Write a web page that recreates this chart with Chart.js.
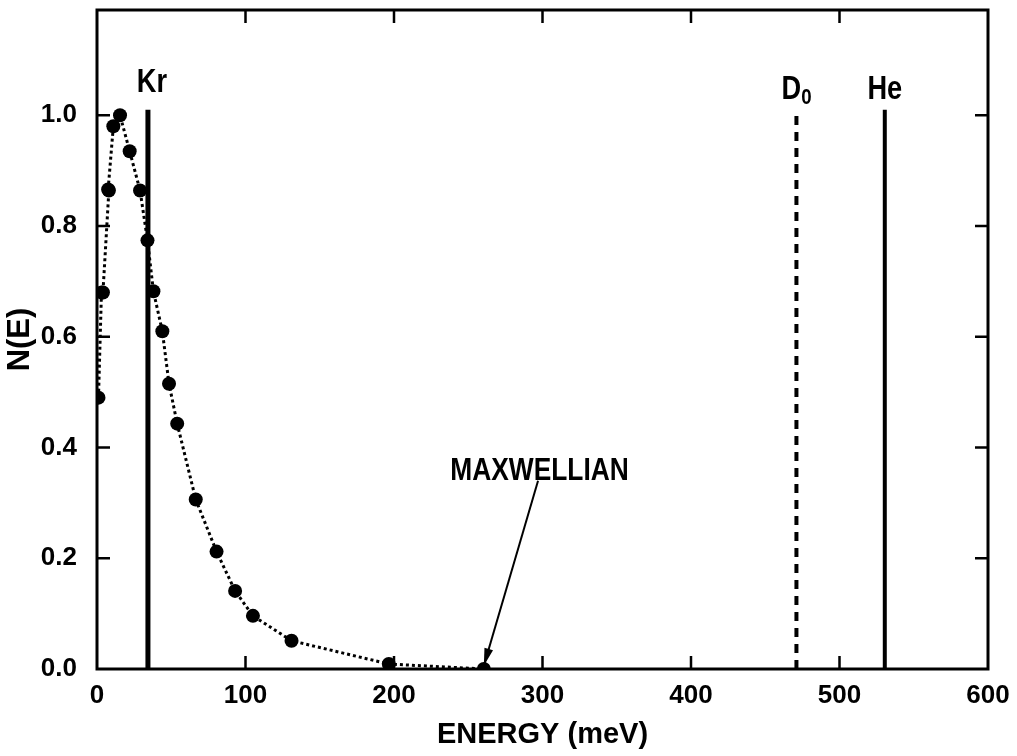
<!DOCTYPE html>
<html>
<head>
<meta charset="utf-8">
<script src="https://cdn.jsdelivr.net/npm/chart.js@4.4.0/dist/chart.umd.min.js"></script>
<style>
  html, body { margin: 0; padding: 0; background: #fff; }
  #wrap { width: 1017px; height: 756px; }
</style>
</head>
<body>
<div id="wrap"><canvas id="myChart" width="1017" height="756"></canvas></div>
<script>
// measured Maxwellian points, energy (meV) vs N(E)
const energy = [1, 3, 4, 8, 7.5, 11, 15.5, 22, 29, 34, 38, 44, 48.5, 54, 66.5, 80.5, 93, 105, 131, 196.5, 260.5];
const nE = [0.49, 0.68, 0.68, 0.864, 0.866, 0.98, 1.0, 0.935, 0.864, 0.774, 0.682, 0.61, 0.515, 0.443, 0.306, 0.212, 0.141, 0.096, 0.051, 0.009, 0.0];
// beam energies of the three gases
const lineNames = ['Kr', 'D0', 'He'];
const lineEnergy = [34.3, 471, 530.5];
const lineTop = 1.01;
const xTicks = [0, 100, 200, 300, 400, 500, 600];
const yTicks = [0, 0.2, 0.4, 0.6, 0.8, 1.0];

const FONT = '"Liberation Sans", Arial, sans-serif';

const ctx = document.getElementById('myChart').getContext('2d');

const pts = energy.map((e, i) => ({ x: e, y: nE[i] }));
const vline = (e) => [{ x: e, y: 0 }, { x: e, y: lineTop }];

// condensed-looking text: squeeze horizontally
function narrowText(c, txt, x, y, sx) {
    c.save();
    c.translate(x, y);
    c.scale(sx, 1);
    c.fillText(txt, 0, 0);
    c.restore();
}

// frame, inward ticks, labels and arrow
const decor = {
    id: 'decor',
    afterDatasetsDraw(chart) {
        const c = chart.ctx;
        const a = chart.chartArea;
        const xs = chart.scales.x, ys = chart.scales.y;
        c.save();
        c.strokeStyle = '#000';
        c.lineWidth = 3;
        c.strokeRect(a.left, a.top, a.right - a.left, a.bottom - a.top);
        c.lineWidth = 2.5;
        c.beginPath();
        xTicks.slice(1, -1).forEach(v => {
            const px = xs.getPixelForValue(v);
            c.moveTo(px, a.bottom); c.lineTo(px, a.bottom - 13);
            c.moveTo(px, a.top); c.lineTo(px, a.top + 13);
        });
        yTicks.slice(1).forEach(v => {
            const py = ys.getPixelForValue(v);
            c.moveTo(a.left, py); c.lineTo(a.left + 13, py);
            c.moveTo(a.right, py); c.lineTo(a.right - 13, py);
        });
        c.stroke();

        c.fillStyle = '#000';
        c.textAlign = 'center';
        c.textBaseline = 'alphabetic';
        c.font = 'bold 34px ' + FONT;
        narrowText(c, 'Kr', xs.getPixelForValue(lineEnergy[0]) + 4, ys.getPixelForValue(1.042), 0.8);
        narrowText(c, 'He', xs.getPixelForValue(lineEnergy[2]), ys.getPixelForValue(1.03), 0.8);
        const dx = xs.getPixelForValue(lineEnergy[1]) - 5;
        narrowText(c, 'D', dx, ys.getPixelForValue(1.03), 0.8);
        c.font = 'bold 22px ' + FONT;
        narrowText(c, '0', dx + 15, ys.getPixelForValue(1.03) + 5, 0.85);

        c.font = 'bold 31px ' + FONT;
        narrowText(c, 'MAXWELLIAN', xs.getPixelForValue(298), ys.getPixelForValue(0.342), 0.85);

        // arrow
        const x0 = xs.getPixelForValue(297), y0 = ys.getPixelForValue(0.34);
        const x1 = xs.getPixelForValue(260.5), y1 = ys.getPixelForValue(0.006);
        c.lineWidth = 2;
        c.beginPath(); c.moveTo(x0, y0); c.lineTo(x1, y1); c.stroke();
        const ang = Math.atan2(y1 - y0, x1 - x0);
        c.beginPath();
        c.moveTo(x1, y1);
        c.lineTo(x1 - 18 * Math.cos(ang - 0.25), y1 - 18 * Math.sin(ang - 0.25));
        c.lineTo(x1 - 18 * Math.cos(ang + 0.25), y1 - 18 * Math.sin(ang + 0.25));
        c.closePath(); c.fill();
        c.restore();
    }
};

const myChart = new Chart(ctx, {
    type: 'scatter',
    data: {
        datasets: [
            { label: 'Kr', data: vline(lineEnergy[0]), showLine: true, borderColor: '#000', borderWidth: 5, pointRadius: 0 },
            { label: 'D0', data: vline(lineEnergy[1]), showLine: true, borderColor: '#000', borderWidth: 4, borderDash: [9, 7], pointRadius: 0 },
            { label: 'He', data: vline(lineEnergy[2]), showLine: true, borderColor: '#000', borderWidth: 4, pointRadius: 0 },
            {
                label: 'Maxwellian', data: pts, showLine: true,
                borderColor: '#000', borderWidth: 3, borderDash: [3, 3],
                backgroundColor: '#000', pointRadius: 7, pointBorderWidth: 0
            }
        ]
    },
    options: {
        responsive: false,
        animation: false,
        layout: { padding: { left: 0, right: 29, top: 10, bottom: 0 } },
        plugins: { legend: { display: false }, tooltip: { enabled: false } },
        scales: {
            x: {
                type: 'linear', min: 0, max: 600,
                afterFit: s => { s.height = 87; s.paddingLeft = 0; s.paddingRight = 0; },
                grid: { display: false, drawTicks: false },
                border: { display: false },
                ticks: {
                    stepSize: 100, padding: 11, color: '#000',
                    font: { family: FONT, size: 26, weight: 'bold' }
                },
                title: {
                    display: true, text: 'ENERGY (meV)', color: '#000',
                    font: { family: FONT, size: 29, weight: 'bold' },
                    padding: { top: 0, bottom: 4 }
                }
            },
            y: {
                type: 'linear', min: 0, max: 1.19,
                afterFit: s => { s.width = 97; s.paddingTop = 0; s.paddingBottom = 0; },
                grid: { display: false, drawTicks: false },
                border: { display: false },
                ticks: {
                    stepSize: 0.2, padding: 20, color: '#000',
                    font: { family: FONT, size: 26, weight: 'bold' },
                    callback: v => v > 1.05 ? '' : v.toFixed(1)
                },
                title: {
                    display: true, text: 'N(E)', color: '#000',
                    font: { family: FONT, size: 31, weight: 'bold' },
                    padding: { top: 2, bottom: 0 }
                }
            }
        }
    },
    plugins: [decor]
});
</script>
</body>
</html>
